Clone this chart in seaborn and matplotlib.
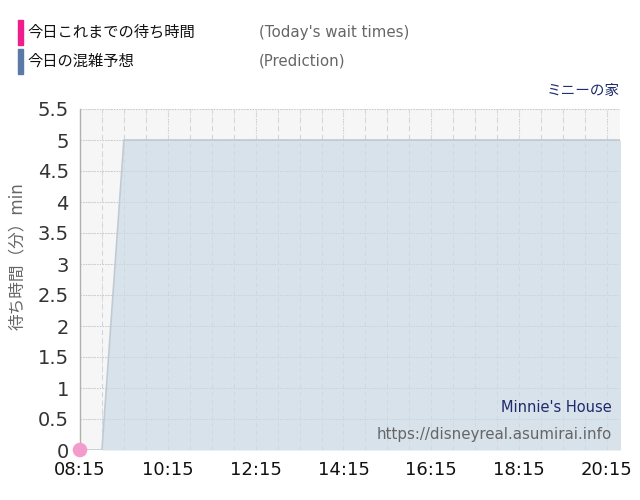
import matplotlib
matplotlib.use("Agg")
import matplotlib.pyplot as plt
import seaborn as sns
import pandas as pd
import numpy as np

# ---- data ----
pred_times = ["08:15", "08:30", "08:45", "09:00", "09:15", "10:15", "11:15", "12:15",
              "13:15", "14:15", "15:15", "16:15", "17:15", "18:15", "19:15", "20:15", "20:45"]
pred_values = [0, 0, 0, 2.5, 5, 5, 5, 5, 5, 5, 5, 5, 5, 5, 5, 5, 5]
wait_times = ["08:15"]
wait_values = [0]
tick_labels = ["08:15", "10:15", "12:15", "14:15", "16:15", "18:15", "20:15"]
y_ticks = [0, 0.5, 1, 1.5, 2, 2.5, 3, 3.5, 4, 4.5, 5, 5.5]
y_tick_labels = ["0", "0.5", "1", "1.5", "2", "2.5", "3", "3.5", "4", "4.5", "5", "5.5"]


def to_min(s):
    h, m = s.split(":")
    return int(h) * 60 + int(m)


pred = pd.DataFrame({"t": [to_min(s) for s in pred_times], "v": pred_values})
wait = pd.DataFrame({"t": [to_min(s) for s in wait_times], "v": wait_values})

sns.set_theme(style="white")
plt.rcParams["font.family"] = ["DejaVu Sans", "Noto Sans CJK JP"]

fig = plt.figure(figsize=(6.4, 5.0), dpi=100)
ax = fig.add_axes([0.125, 0.1, 0.844, 0.682])
ax.set_facecolor("#f6f6f6")

x0 = to_min("08:15")
x1 = to_min("20:33")

# grid
for y in y_ticks:
    ax.axhline(y, color="#c8c8c8", lw=0.8, ls=(0, (1, 1.5)), zorder=1)
for t in range(x0 + 30, x1, 30):
    if (t - x0) % 120 == 0:
        ax.axvline(t, color="#cfcfcf", lw=0.8, ls=(0, (1, 1.5)), zorder=1)
    else:
        ax.axvline(t, color="#d8d8d8", lw=0.8, ls=(0, (4, 4)), zorder=1)

# prediction area
ax.fill_between(pred["t"], pred["v"], 0, color="#d6e1ea", alpha=0.95, zorder=2, lw=0)
sns.lineplot(data=pred, x="t", y="v", ax=ax, color="#bfcad3", lw=1.2, zorder=3)

# grid over area faintly
for y in y_ticks:
    ax.axhline(y, color="#b9c3cc", lw=0.7, ls=(0, (1, 1.5)), zorder=3.5, alpha=0.6)
for t in range(x0 + 30, x1, 30):
    ax.axvline(t, color="#c9d3dc", lw=0.7, ls=(0, (4, 4)), zorder=3.5, alpha=0.6)

# today's wait times
sns.scatterplot(data=wait, x="t", y="v", ax=ax, color="#f39ccc", s=110,
                edgecolor="none", zorder=5, clip_on=False)

ax.set_xlim(x0, x1)
ax.set_ylim(0, 5.5)
ax.set_yticks(y_ticks)
ax.set_yticklabels(y_tick_labels, fontsize=14, color="#333333")
ax.set_xticks([to_min(s) for s in tick_labels])
ax.set_xticklabels(tick_labels, fontsize=13, color="#111111")
ax.tick_params(axis="x", length=6, color="#dddddd", pad=2)
ax.tick_params(axis="y", length=0, pad=8)
ax.set_xlabel("")
ax.set_ylabel("")
fig.text(17 / 640, 1 - 256 / 500, "待ち時間（分）min", fontsize=12, color="#666666",
         rotation=90, ha="center", va="center")

for side in ["top", "right", "bottom"]:
    ax.spines[side].set_visible(False)
ax.spines["left"].set_color("#b0b0b0")
ax.spines["left"].set_linewidth(1)

# watermark text
ax.text(0.985, 0.125, "Minnie's House", transform=ax.transAxes, ha="right", va="center",
        fontsize=10.5, color="#1f2a6b", zorder=6)
ax.text(0.985, 0.045, "https://disneyreal.asumirai.info", transform=ax.transAxes,
        ha="right", va="center", fontsize=10.8, color="#666666", zorder=6)

# legend / header
fig.patches.append(plt.Rectangle((18 / 640, 1 - 45 / 500), 5 / 640, 25 / 500,
                                 transform=fig.transFigure, color="#ee1e8c"))
fig.patches.append(plt.Rectangle((18 / 640, 1 - 74 / 500), 5 / 640, 25 / 500,
                                 transform=fig.transFigure, color="#5b79a6"))
fig.text(27 / 640, 1 - 32 / 500, "今日これまでの待ち時間", fontsize=11, color="#111111",
         va="center", ha="left")
fig.text(27 / 640, 1 - 61 / 500, "今日の混雑予想", fontsize=11, color="#111111",
         va="center", ha="left")
fig.text(259 / 640, 1 - 32 / 500, "(Today's wait times)", fontsize=10.8, color="#666666",
         va="center", ha="left")
fig.text(259 / 640, 1 - 61 / 500, "(Prediction)", fontsize=10.8, color="#666666",
         va="center", ha="left")
fig.text(620 / 640, 1 - 91 / 500, "ミニーの家", fontsize=10.5, color="#1f2a6b",
         va="center", ha="right")

fig.savefig("out.png", dpi=100)
